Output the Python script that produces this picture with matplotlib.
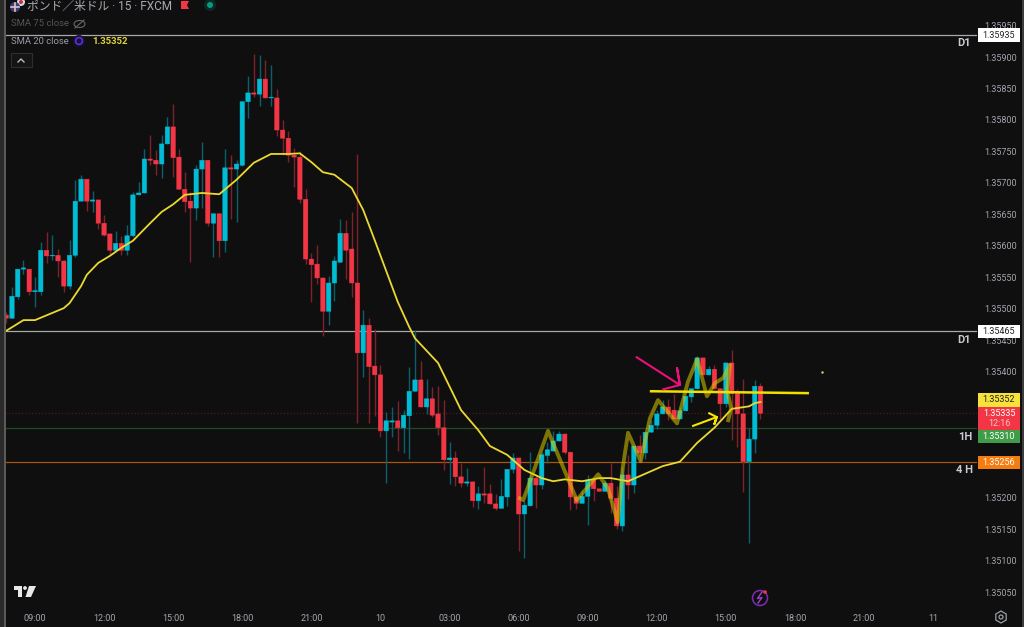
import numpy as np
import matplotlib
matplotlib.use("Agg")
import matplotlib.pyplot as plt
from matplotlib.patches import Rectangle, Circle, RegularPolygon, Ellipse

plt.rcParams['font.family'] = ['Roboto', 'Noto Sans CJK JP', 'DejaVu Sans']

BG = "#0f0f0f"
UP = "#00bcd4"
DOWN = "#f23645"
W, H = 1024, 627

# prices are kept as points above 1.35000 (1 point = 0.00001)
BASE = 1.35
opens = [490,485,519,563,563,527,527,593,584,585,576,536,585,671,706,671,673,636,619,593,
         604,593,616,681,684,738,736,730,762,789,741,690,671,660,722,736,636,651,608,724,
         722,728,829,843,841,865,835,835,784,771,744,741,674,579,571,549,496,541,574,620,
         595,541,430,474,409,395,306,320,322,311,330,369,387,344,357,333,311,260,263,233,
         223,225,195,206,206,190,183,201,245,263,174,187,231,220,267,274,290,301,272,201,
         191,202,228,214,210,223,199,155,236,220,282,271,304,315,333,344,339,325,338,360,
         373,422,395,404,373,349,414,366,333,257,293,377]
highs = [495,535,563,577,563,550,606,622,617,595,577,609,705,713,706,687,673,649,619,624,
         616,633,686,701,754,776,752,776,805,825,754,717,686,728,765,736,651,652,754,744,
         736,830,870,905,903,895,887,849,800,782,755,751,690,589,601,549,552,584,643,641,
         654,746,498,485,468,411,336,344,354,339,408,466,417,388,376,377,355,288,274,255,
         247,226,218,249,222,206,230,245,271,263,195,272,236,272,288,306,306,303,274,201,
         212,236,228,214,228,255,218,249,268,282,299,304,323,339,355,357,365,344,361,373,
         425,422,409,411,373,414,434,373,388,311,387,382]
lows = [477,485,516,555,522,503,522,573,577,550,527,531,582,671,655,654,627,616,585,592,
        585,585,614,681,684,728,713,708,762,709,690,654,574,641,660,631,582,582,590,643,
        638,727,803,836,822,835,822,774,744,733,693,668,571,511,539,457,474,512,574,547,
        519,319,392,319,330,296,223,296,274,271,261,369,344,333,328,299,244,222,218,217,
        218,185,182,191,190,180,183,187,239,115,104,187,183,214,255,274,290,269,180,182,
        191,156,195,210,210,175,150,147,198,207,257,261,304,309,333,323,325,325,338,352,
        373,395,395,373,323,344,292,280,209,128,271,325]
closes = [485,520,563,565,527,529,593,584,585,576,536,585,671,706,671,673,636,617,593,604,
          593,616,681,684,738,736,730,762,789,740,690,670,660,722,736,636,651,608,724,722,
          730,829,843,841,865,835,836,784,771,744,741,674,579,570,549,496,541,576,620,593,
          541,430,474,408,395,306,322,322,311,331,369,387,344,357,331,311,260,263,233,223,
          225,195,206,204,190,183,202,245,263,174,188,231,220,268,276,290,301,272,201,191,
          202,228,214,210,223,199,155,236,220,282,271,304,315,333,344,333,325,338,361,373,
          422,395,404,373,349,414,365,333,257,293,377,334]

sma_idx = [0,3,5,10,11,13,14,16,18,20,22,25,27,29,31,34,37,40,43,46,49,51,53,55,57,60,62,64,
           68,70,71,75,79,82,84,87,90,93,95,97,100,103,105,108,110,114,117,120,123,126,129,130,131]
sma_val = [465,482,482,501,509,536,554,573,584,597,608,636,654,666,681,684,682,705,732,746,746,747,
           733,717,713,692,657,609,511,471,453,414,339,307,282,268,244,231,226,229,226,231,231,226,
           234,250,257,287,311,341,345,350,352]

# hand drawn stuff on the chart
wave_idx = [89.2,89.8,94.1,99.1,102.8,104.5,106.2,107.1,108,110.2,111.8,113.2,116.5,118.4,
            120,121.7,123.1,124.5,125.7,125.2,125.9,125.4]
wave_val = [199,196,306,196,237,215,161,249,303,258,326,355,318,384,420,361,382,390,411,371,342,323]
level_idx = [112,139.2]
level_val = [369,366]
pink_idx = [114.1,117,116.5,117,109.5]
pink_val = [372,379,406,379,423]
yarrow_idx = [122.1,123.4,123,123.4,119.3]
yarrow_val = [334,328,317,328,314]

hlines = [1.35935,1.35465,1.35335,1.35310,1.35256]
hline_colors = ["#a9a9a9","#a9a9a9","#4a1a1e","#234a26","#a8560f"]
hline_styles = ["-","-",":","-","-"]

# 1.35350, 1.35300 and 1.35250 sit behind the price tags
ytick_vals = [1.3505,1.3510,1.3515,1.3520,1.3540,1.3545,1.3550,1.3555,1.3560,1.3565,
              1.3570,1.3575,1.3580,1.3585,1.3590,1.3595]
time_labels = ["09:00","12:00","15:00","18:00","21:00","10","03:00","06:00","09:00","12:00","15:00","18:00","21:00","11"]
time_idx = [5,17,29,41,53,65,77,89,101,113,125,137,149,161]

def price(points):
    return BASE+np.array(points)/1e5

fig = plt.figure(figsize=(W/100,H/100),dpi=100,facecolor=BG)
ax = fig.add_axes([5/W,(H-606)/H,972/W,606/H],facecolor=BG)
ax.set_xlim(-0.208,168.6)
ax.set_ylim(1.350278,1.359906)
for s in ax.spines.values():
    s.set_visible(False)

o,h,l,c = price(opens),price(highs),price(lows),price(closes)
x = np.arange(len(o))
up = c>=o
colors = np.where(up,UP,DOWN)
wick_colors = np.where(up,"#0b5f6c","#7b222b")

for y,col,ls in zip(hlines,hline_colors,hline_styles):
    ax.axhline(y,color=col,lw=0.9,ls=ls,zorder=1)

ax.vlines(x,l,h,colors=wick_colors,lw=1,zorder=2)
bars = ax.bar(x,np.abs(c-o),bottom=np.minimum(o,c),width=0.78,color=colors,edgecolor=colors,lw=0.3,zorder=3)
for b in bars:
    b.set_snap(False)

ax.plot(sma_idx,price(sma_val),color="#ecd92f",lw=1.3,zorder=4,solid_joinstyle="round")
ax.plot(wave_idx,price(wave_val),color="#d8c800",alpha=0.55,lw=2.8,zorder=5,solid_joinstyle="round")
ax.plot(level_idx,price(level_val),color="#efe000",lw=1.8,zorder=6)
ax.plot(pink_idx,price(pink_val),color="#ec0f7a",lw=1.5,zorder=6)
ax.plot(yarrow_idx,price(yarrow_val),color="#f5e600",lw=1.5,zorder=6)
ax.plot([141.7],[price(400)],marker=".",ms=1.5,color="#d8d060")

ax.yaxis.tick_right()
ax.set_yticks(ytick_vals)
ax.set_yticklabels([f"{v:.5f}" for v in ytick_vals],fontsize=6.5,color="#a3a6af")
ax.tick_params(axis="y",length=0,pad=5)
ax.set_xticks(time_idx)
ax.set_xticklabels(time_labels,fontsize=6.5,color="#a3a6af")
ax.tick_params(axis="x",length=0,pad=5.5)

def fx(px): return px/W
def fy(px): return 1-px/H

def label(px,py,s,color,size=6.5,**kw):
    kw.setdefault("va","center")
    fig.text(fx(px),fy(py),s,color=color,fontsize=size,zorder=9,**kw)

def tag(y0,y1,bg,s,color,py=None):
    fig.add_artist(Rectangle((fx(978),fy(y1)),42/W,(y1-y0)/H,transform=fig.transFigure,facecolor=bg,edgecolor="none",zorder=8))
    label(999,(y0+y1)/2 if py is None else py,s,color,ha="center")

# price tags on the scale
tag(28,42,"#ffffff","1.35935","#222222")
tag(325,338,"#ffffff","1.35465","#222222")
tag(393,407,"#f7e23a","1.35352","#222222")
tag(407,430,DOWN,"1.35335","#ffffff",py=413)
label(999,424,"12:16","#f8c4c8",ha="center")
tag(430,443,"#3f9c47","1.35310","#ffffff")
tag(456,469,"#f57c0f","1.35256","#ffffff")

for px,py,s in [(964,43,"D1"),(964,340,"D1"),(965,437,"1H"),(964,470,"4 H")]:
    label(px,py,s,"#c8cad0",size=8,ha="center",fontweight="bold")

# left and right edge bars
fig.add_artist(Rectangle((0,0),3.5/W,1,transform=fig.transFigure,facecolor="#2a2a2a",edgecolor="none",zorder=8))
fig.add_artist(Rectangle((3.5/W,0),2/W,1,transform=fig.transFigure,facecolor="#5a5a5a",edgecolor="none",zorder=8))
fig.add_artist(Rectangle((1022/W,0),2/W,1,transform=fig.transFigure,facecolor="#3c3c3c",edgecolor="none",zorder=8))

# header
label(27,6.5,"ポンド／米ドル · 15 · FXCM","#a8abb3",size=8.5)

ax2 = fig.add_axes([0,0,1,1],facecolor="none",zorder=9)
ax2.set_xlim(0,W)
ax2.set_ylim(H,0)
ax2.axis("off")

def dot(px,py,r,color,ec="none",lw=0):
    ax2.add_patch(Circle((px,py),r,facecolor=color,edgecolor=ec,lw=lw))

dot(21,2,4,"#d8d8e8")
dot(21,2,2,"#c8323c")
dot(15,7,5,"#34407c")
ax2.plot([11,19],[7,7],color="#e8c0c0",lw=1.2)
ax2.plot([15,15],[3,11],color="#e8c0c0",lw=1.2)
ax2.add_patch(plt.Polygon([(181,1),(189,1),(187,5),(189,9),(181,9)],facecolor=DOWN))
dot(210,5,6,"#0c2a24")
dot(210,5,3,"#089981")

label(11,24,"SMA 75 close","#555555",size=6.8)
ax2.add_patch(Ellipse((79.5,24),11,7,facecolor="none",edgecolor="#666666",lw=0.8))
ax2.plot([75,84],[28,20],color="#666666",lw=0.8)
label(11,41,"SMA 20 close","#9a9da5",size=6.8)
dot(79,41,6,"#1a1030")
dot(79,41,3.4,"none","#5a2ee0",1.2)
label(92,41,"1.35352","#e3d43a",size=6.8,fontweight="bold")
ax2.add_patch(Rectangle((11,53),21,14,facecolor="#141414",edgecolor="#2e2e2e",lw=0.8))
ax2.plot([18,21,24],[62,59,62],color="#b8b8b8",lw=1)

# logo
ax2.add_patch(plt.Polygon([(14,586),(22,586),(22,597),(18,597),(18,590),(14,590)],facecolor="#e8e8e8"))
dot(25,588,1.9,"#e8e8e8")
ax2.add_patch(plt.Polygon([(29,586),(36,586),(31,597),(25.5,597)],facecolor="#e8e8e8"))

# lightning button and settings icon
dot(760,598,7.5,"none","#7b2bb5",1.1)
ax2.plot([762,757.5,762,758],[592,598.5,597.5,603],color="#9a3fd0",lw=1)
dot(765,592,1.8,"#f23645")
ax2.add_patch(RegularPolygon((1001,617),6,radius=6,facecolor="none",edgecolor="#9a9da5",lw=0.9))
dot(1001,617,2,"none","#9a9da5",0.9)

fig.savefig("out.png",dpi=100,facecolor=BG)
